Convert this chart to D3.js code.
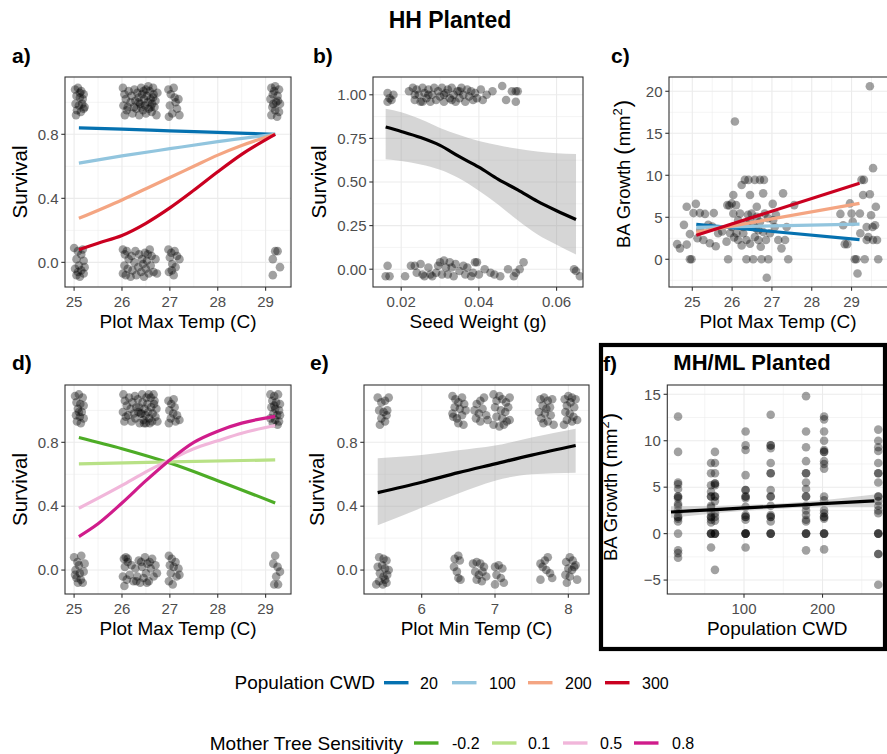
<!DOCTYPE html>
<html><head><meta charset="utf-8">
<script src="https://cdn.jsdelivr.net/npm/d3@7"></script>
<style>body{margin:0;background:#fff}svg{display:block}text{font-family:"Liberation Sans",Arial,Helvetica,sans-serif}</style>
</head><body><svg id="c" width="887" height="754"></svg>
<script>
// ---------------- DATA ----------------
const cwdLevels = ["20", "100", "200", "300"];
const sensLevels = ["-0.2", "0.1", "0.5", "0.8"];

// Panel a: survival vs plot max temp, by population CWD
const aCurves = [
  [[25.1,0.84],[26,0.832],[27,0.822],[28,0.812],[29.2,0.80]],
  [[25.1,0.62],[26,0.665],[27,0.71],[28,0.754],[29.2,0.80]],
  [[25.1,0.275],[26,0.39],[26.5,0.46],[27,0.53],[27.5,0.60],[28,0.67],[28.5,0.73],[29.2,0.80]],
  [[25.1,0.08],[25.5,0.12],[26,0.168],[26.5,0.244],[27,0.34],[27.5,0.45],[28,0.566],[28.5,0.675],[29.2,0.80]]
];
const aPoints = [
 [25.02,1.08],[25.08,1.09],[25.15,1.07],[25.2,1.05],[25.05,1.04],[25.12,1.03],[25.18,1.02],[25.03,0.99],[25.1,0.98],[25.22,0.97],[25.06,0.95],[25.14,0.94],[25.2,0.96],[25.04,0.92],[25.12,1.06],[25.17,0.99],
 [26.02,1.09],[26.05,1.05],[26.08,1.02],[26.03,0.98],[26.1,0.95],[26.06,0.92],[26.14,1.07],[26.18,1.0],[26.12,0.97],[26.2,1.04],[26.22,0.93],[26.26,1.08],[26.28,1.01],[26.3,0.96],[26.32,1.06],[26.35,1.03],[26.36,0.92],[26.38,0.99],[26.4,1.09],[26.42,1.05],[26.44,0.95],[26.46,1.02],[26.48,0.98],[26.5,1.08],[26.5,0.93],[26.52,1.04],[26.54,1.0],[26.56,0.96],[26.58,1.07],[26.6,1.02],[26.62,0.94],[26.63,0.99],[26.65,1.09],[26.66,1.05],[26.68,0.97],[26.7,1.01],[26.72,0.92],[26.74,1.06],[26.45,1.07],[26.55,1.1],[26.4,0.97],[26.6,0.97],[26.35,1.0],[26.65,1.03],[26.25,0.97],
 [26.97,1.08],[27.02,1.05],[27.08,1.09],[27.12,1.0],[27.0,0.98],[27.05,0.93],[27.15,0.96],[27.2,0.92],[27.1,1.03],[26.98,0.91],[27.18,1.02],
 [29.12,1.09],[29.2,1.1],[29.28,1.08],[29.15,1.05],[29.25,1.04],[29.1,1.02],[29.22,1.0],[29.3,0.99],[29.14,0.97],[29.2,0.95],[29.28,0.94],[29.12,0.92],[29.24,0.91],[29.18,1.07],[29.26,1.01],[29.16,0.99],
 [25.0,0.09],[25.08,0.07],[25.15,0.05],[25.05,0.02],[25.2,0.01],[25.1,-0.02],[25.02,-0.04],[25.15,-0.05],[25.08,-0.06],[25.2,-0.07],[25.12,-0.09],[25.05,-0.08],[25.18,0.08],[25.22,-0.03],
 [26.02,0.08],[26.06,0.05],[26.1,0.07],[26.14,0.02],[26.05,-0.02],[26.12,-0.04],[26.02,-0.07],[26.18,-0.09],[26.22,-0.05],[26.2,0.04],[26.26,0.0],[26.3,-0.08],[26.34,-0.03],[26.36,0.05],[26.4,-0.06],[26.42,0.02],[26.46,-0.09],[26.48,0.06],[26.5,-0.04],[26.52,0.01],[26.56,-0.07],[26.58,0.08],[26.6,-0.02],[26.62,0.04],[26.66,-0.06],[26.7,0.02],[26.73,-0.07],[26.44,-0.01],[26.08,-0.08],[26.28,0.07],[26.54,0.05],
 [26.97,0.08],[27.03,0.06],[27.1,0.07],[27.0,0.03],[27.15,0.04],[27.05,-0.01],[27.12,-0.03],[26.98,-0.06],[27.08,-0.08],[27.2,0.02],[27.04,-0.05],
 [29.25,0.07],[29.2,0.07],[29.15,0.02],[29.15,-0.08],[29.3,-0.03]
];

// Panel b: survival vs seed weight
const bFit = [[0.016,0.815],[0.02,0.79],[0.025,0.755],[0.03,0.71],[0.035,0.645],[0.04,0.585],[0.045,0.515],[0.05,0.455],[0.055,0.39],[0.06,0.335],[0.065,0.285]];
const bLow = [0.63,0.62,0.60,0.57,0.52,0.45,0.37,0.28,0.20,0.14,0.085];
const bHigh = [0.92,0.90,0.86,0.81,0.77,0.735,0.71,0.69,0.675,0.665,0.66];
const bPoints = [
 [0.0165,1.01],[0.017,0.98],[0.0175,0.97],[0.0165,0.96],[0.018,1.0],
 [0.022,1.02],[0.023,1.04],[0.0235,0.97],[0.024,1.03],[0.0245,1.0],[0.025,0.96],[0.0255,1.04],[0.026,1.01],[0.0265,0.98],[0.027,1.03],[0.0275,0.96],[0.028,1.0],[0.0285,1.04],[0.029,0.97],[0.0295,1.02],[0.03,0.99],[0.0305,1.04],[0.031,0.96],[0.0315,1.01],[0.032,1.03],[0.0325,0.98],[0.033,1.04],[0.0335,1.0],[0.034,0.96],[0.0345,1.02],[0.035,0.98],[0.0355,1.04],[0.036,1.0],[0.0365,0.96],[0.037,1.03],[0.0375,0.99],[0.038,1.02],[0.0385,0.97],[0.039,1.01],[0.0395,0.98],[0.0405,1.03],[0.041,0.97],[0.042,1.0],[0.0235,1.0],[0.027,1.0],[0.031,1.0],[0.035,1.02],[0.0255,0.96],[0.033,0.97],
 [0.0435,1.02],[0.046,1.05],[0.047,0.97],[0.0485,1.02],[0.0495,1.02],[0.0495,0.96],[0.05,1.02],
 [0.0165,0.02],[0.016,-0.04],[0.017,-0.04],[0.021,-0.04],[0.0225,0.02],[0.0235,0.02],[0.024,-0.02],[0.025,0.03],[0.0255,-0.03],[0.026,-0.04],[0.027,0.01],[0.0275,-0.03],[0.028,-0.04],[0.029,-0.02],[0.0295,0.02],[0.03,0.04],[0.0305,-0.03],[0.031,0.05],[0.0315,0.01],[0.032,-0.03],[0.0325,0.04],[0.033,0.01],[0.0335,-0.04],[0.034,0.03],[0.035,-0.01],[0.036,0.02],[0.0365,-0.03],[0.037,0.01],[0.038,-0.04],[0.0385,-0.02],[0.039,0.04],[0.0395,0.04],[0.04,-0.03],[0.0415,0.0],[0.043,-0.02],[0.044,-0.03],[0.0455,-0.04],[0.0475,0.0],[0.049,-0.04],[0.0495,-0.02],[0.0505,0.0],[0.0515,0.04],[0.0645,0.0],[0.065,-0.01],[0.066,-0.04]
];

// Panel c: BA growth vs plot max temp, by population CWD
const cLines = [
  [[25.1,4.15],[29.2,2.35]],
  [[25.1,3.8],[29.2,4.18]],
  [[25.1,3.2],[29.2,6.65]],
  [[25.1,2.85],[29.2,9.04]]
];
const cPoints = [
 [24.62,1.8],[24.69,1.3],[24.86,1.75],[24.79,4.1],[24.86,6.25],[24.94,3.0],[24.94,0],[24.98,0],[25.03,5.5],[25.09,6.6],[25.13,2.5],[25.19,5.5],[25.28,2.3],[25.32,5.4],[25.4,4.1],[25.44,1.9],[25.54,5.5],[25.59,1.55],[25.65,3.1],[25.86,2.1],[25.88,6.45],[25.9,0],[25.93,6.4],[25.99,6.65],[26.03,7.65],[26.03,5.45],[26.07,16.4],[26.1,6.45],[26.11,3.1],[26.15,4.65],[26.2,5.45],[26.24,8.85],[26.28,3.1],[26.32,9.45],[26.36,2.3],[26.36,0],[26.41,9.45],[26.45,7.65],[26.49,5.45],[26.53,0],[26.57,9.45],[26.62,6.25],[26.66,2.3],[26.7,9.45],[26.74,0],[26.78,7.85],[26.8,9.45],[26.82,5.45],[26.85,2.3],[26.87,-2.2],[26.91,0],[26.95,3.1],[27.02,6.6],[27.03,4.65],[27.07,3.85],[27.16,2.3],[27.24,1.3],[27.28,7.85],[27.33,2.3],[27.37,3.85],[27.41,0],[27.56,6.45],
 [26.36,4.25],[26.45,4.65],[26.53,4.05],[26.62,5.05],[26.7,4.45],[26.66,3.45],[26.28,3.85],[26.15,2.3],[25.95,3.1],[25.99,3.85],[26.78,3.25],[26.57,2.65],[26.45,1.85],[26.72,1.5],[26.24,1.65],[25.2,3.5],[25.5,3.9],[25.75,3.3],[26.05,2.6],[26.4,5.3],[26.9,4.9],[27.1,5.3],[26.6,3.7],
 [28.72,5.4],[28.79,4.05],[28.83,1.8],[28.89,1.8],[28.96,6.65],[29.0,5.45],[29.03,4.45],[29.08,0],[29.12,0],[29.15,-1.7],[29.21,5.45],[29.25,9.45],[29.29,7.65],[29.31,9.45],[29.33,0],[29.38,2.3],[29.42,2.65],[29.46,20.6],[29.46,7.75],[29.49,5.25],[29.53,3.85],[29.54,10.85],[29.54,2.3],[29.59,4.05],[29.61,6.25],[29.64,2.3],[29.67,0],[29.38,3.85],[29.22,3.1]
];

// Panel d: survival vs plot max temp, by mother tree sensitivity
const dCurves = [
  [[25.1,0.83],[26,0.76],[27,0.67],[28,0.56],[29.2,0.42]],
  [[25.1,0.665],[27,0.677],[29.2,0.69]],
  [[25.1,0.387],[26,0.53],[26.5,0.615],[27,0.69],[27.5,0.76],[28,0.81],[28.5,0.857],[29.2,0.905]],
  [[25.1,0.21],[25.5,0.29],[26,0.42],[26.5,0.56],[27,0.69],[27.5,0.80],[28,0.87],[28.5,0.92],[29.2,0.963]]
];
const dPoints = [
 [25.02,1.09],[25.1,1.1],[25.18,1.08],[25.05,1.05],[25.13,1.04],[25.2,1.03],[25.08,1.01],[25.16,0.99],[25.04,0.97],[25.12,0.96],[25.2,0.95],[25.06,0.93],[25.14,0.92],[25.1,0.99],
 [26.03,1.1],[26.06,1.06],[26.1,1.03],[26.02,0.99],[26.08,0.96],[26.05,0.93],[26.15,1.08],[26.18,1.01],[26.13,0.97],[26.22,1.05],[26.2,0.93],[26.27,1.09],[26.3,1.02],[26.28,0.95],[26.33,1.07],[26.36,1.02],[26.37,0.92],[26.39,0.98],[26.42,1.1],[26.43,1.05],[26.45,0.94],[26.47,1.01],[26.49,0.97],[26.51,1.08],[26.5,0.92],[26.53,1.04],[26.55,0.99],[26.57,0.95],[26.6,1.08],[26.61,1.02],[26.63,0.93],[26.64,0.98],[26.66,1.1],[26.67,1.04],[26.7,0.96],[26.72,1.01],[26.74,0.93],[26.46,0.92],[26.56,1.1],[26.41,0.98],[26.58,0.92],[26.34,0.99],[26.68,1.06],[26.25,0.98],
 [26.97,1.06],[27.03,1.04],[27.1,1.02],[26.99,1.0],[27.07,0.98],[27.15,0.97],[27.02,0.95],[27.12,0.93],[27.2,0.94],[26.98,0.92],[27.08,1.07],
 [29.1,1.1],[29.18,1.09],[29.26,1.1],[29.14,1.06],[29.22,1.05],[29.3,1.04],[29.12,1.02],[29.2,1.01],[29.28,1.0],[29.16,0.98],[29.24,0.97],[29.1,0.95],[29.2,0.94],[29.28,0.93],[29.15,0.92],[29.25,0.91],[29.18,1.03],[29.3,0.97],
 [25.0,0.08],[25.07,0.05],[25.15,0.09],[25.1,0.03],[25.03,0.0],[25.12,-0.02],[25.2,-0.01],[25.05,-0.05],[25.14,-0.06],[25.08,-0.08],[25.18,-0.08],[25.02,-0.03],[25.22,0.04],
 [26.04,0.07],[26.08,0.08],[26.12,0.05],[26.06,0.02],[26.02,-0.04],[26.1,-0.06],[26.05,-0.1],[26.16,-0.03],[26.2,0.03],[26.24,-0.07],[26.28,0.01],[26.32,-0.04],[26.35,0.06],[26.38,-0.08],[26.42,0.02],[26.45,-0.05],[26.48,0.08],[26.5,-0.02],[26.53,0.04],[26.56,-0.07],[26.6,0.01],[26.63,0.07],[26.66,-0.04],[26.7,0.03],[26.73,-0.02],[26.12,0.07],[26.4,0.05],[26.58,0.05],[26.3,-0.07],[26.52,-0.08],
 [26.98,0.09],[27.04,0.07],[27.12,0.05],[27.0,0.03],[27.08,0.02],[27.18,0.01],[27.02,-0.02],[27.14,-0.04],[26.98,-0.07],[27.06,-0.09],[27.2,-0.03],
 [29.2,0.09],[29.16,0.04],[29.25,0.02],[29.3,-0.01],[29.22,-0.04],[29.18,-0.09],[29.26,-0.09]
];

// Panel e: survival vs plot min temp
const eFit = [[5.4,0.485],[6,0.55],[6.5,0.61],[7,0.665],[7.5,0.72],[8.1,0.78]];
const eLow = [0.28,0.39,0.48,0.56,0.60,0.61];
const eHigh = [0.70,0.72,0.75,0.78,0.83,0.885];
const ePoints = [
 [5.4,1.08],[5.45,1.05],[5.5,1.06],[5.55,1.08],[5.42,1.0],[5.48,0.99],[5.53,1.0],[5.45,0.95],[5.5,0.93],[5.43,0.91],[5.52,0.97],
 [6.42,1.09],[6.46,1.07],[6.5,1.05],[6.55,1.08],[6.58,1.04],[6.45,1.02],[6.52,1.01],[6.43,0.96],[6.48,0.95],[6.55,0.97],[6.5,0.92],[6.57,0.91],[6.42,0.98],[6.6,1.0],
 [6.72,1.0],[6.75,1.04],[6.8,1.06],[6.85,1.08],[6.78,0.98],[6.83,1.01],[6.88,0.97],[6.74,0.95],[6.8,0.93],[6.9,0.94],
 [6.98,1.1],[7.02,1.06],[7.06,1.09],[7.1,1.07],[7.15,1.05],[7.2,1.08],[7.0,1.02],[7.08,1.0],[7.14,0.99],[7.18,1.02],[7.02,0.96],[7.1,0.95],[7.16,0.93],[6.98,0.91],[7.06,0.9],[7.2,0.94],[7.12,0.91],
 [7.62,1.07],[7.67,1.08],[7.72,1.06],[7.78,1.07],[7.65,1.03],[7.7,1.01],[7.75,1.02],[7.6,0.99],[7.68,0.98],[7.76,0.97],[7.63,0.95],[7.72,0.93],[7.8,0.91],[7.66,0.92],
 [7.95,1.07],[8.0,1.09],[8.05,1.08],[8.1,1.07],[7.98,1.03],[8.03,1.05],[8.08,1.02],[7.96,0.99],[8.02,0.98],[8.07,0.96],[8.12,0.94],[7.98,0.94],[7.94,0.91],[8.05,0.93],
 [5.42,0.08],[5.48,0.07],[5.52,0.06],[5.4,0.02],[5.46,0.03],[5.5,0.01],[5.55,0.0],[5.43,-0.02],[5.48,-0.04],[5.53,-0.03],[5.42,-0.07],[5.47,-0.09],[5.52,-0.08],[5.38,-0.09],[5.5,-0.06],
 [6.45,0.07],[6.5,0.09],[6.52,0.06],[6.44,0.02],[6.48,-0.01],[6.5,-0.05],[6.53,-0.06],
 [6.7,0.04],[6.75,0.05],[6.8,0.04],[6.85,0.02],[6.73,-0.01],[6.78,-0.03],[6.83,-0.01],[6.88,-0.04],[6.75,-0.06],[6.82,-0.07],
 [7.0,0.02],[7.05,0.03],[7.1,0.01],[7.02,-0.03],[7.08,-0.05],[7.0,-0.09],[7.12,-0.08],
 [7.62,0.04],[7.68,0.06],[7.72,0.08],[7.65,0.02],[7.7,0.0],[7.75,-0.02],[7.62,-0.06],[7.78,-0.05],
 [7.97,0.05],[8.02,0.08],[8.06,0.06],[8.1,0.03],[8.0,0.01],[8.05,0.0],[8.08,0.02],[7.96,-0.03],[8.02,-0.04],[8.12,-0.06],[7.98,-0.08]
];

// Panel f: BA growth vs population CWD (MH/ML planted)
const fFit = [[7,2.33],[70,2.62],[137,2.93],[200,3.22],[266,3.52]];
const fLow = [1.7,2.25,2.65,2.85,2.85];
const fHigh = [2.95,3.0,3.2,3.6,4.2];
const fColX = [16, 58, 63, 102, 134, 179, 202, 271];
const fColY = [
  [12.6,8.8,5.5,5.3,4.8,4.0,4.0,3.8,3.2,3.0,2.5,2.2,1.8,1.8,1.6,1.3,0,-1.8,-2.1,-2.6],
  [7.6,6.5,5.2,4.5,4.0,4.0,3.0,2.8,2.3,1.8,1.8,1.5,1.2,0,0,0,-1.5],
  [8.8,7.6,6.5,5.4,5.4,5.2,4.0,4.0,3.5,2.2,1.8,1.4,0,0,0,-3.9],
  [11.0,9.5,9.0,6.3,4.7,4.7,4.0,4.0,3.8,2.9,2.0,1.8,1.8,1.5,0,0,0,0,-1.5],
  [12.8,9.5,9.5,9.2,7.6,6.5,6.5,4.7,4.0,4.0,3.0,2.0,1.8,1.8,1.3,0,0,0],
  [14.8,11.0,9.3,7.8,6.5,6.5,5.5,4.8,4.0,4.0,3.0,2.5,2.0,1.5,1.3,0,0,0,-1.8],
  [12.6,12.3,11.0,10.0,9.0,8.8,8.8,7.8,7.5,7.0,4.0,3.6,2.5,2.2,1.8,1.8,1.6,0,0,0,-1.7],
  [11.2,10.0,9.3,8.9,7.6,6.5,6.5,5.5,4.0,4.0,3.5,3.0,2.5,2.2,0,0,0,-2.2,-2.2,-5.5]
];

// ---------------- STYLE ----------------
const cwdColors = ["#0571b0", "#92c5de", "#f4a582", "#ca0020"];
const sensColors = ["#4dac26", "#b8e186", "#f1b6da", "#d01c8b"];

// ---------------- DRAW ----------------
const svg = d3.select("#c");
svg.append("rect").attr("width", 887).attr("height", 754).attr("fill", "#fff");

function minorBreaks(ticks, dom) {
  const step = ticks[1] - ticks[0];
  const m = ticks.map(t => t - step / 2).concat([ticks[ticks.length - 1] + step / 2]);
  return m.filter(v => v > dom[0] && v < dom[1]);
}

function panel(o) {
  const g = svg.append("g");
  const x = d3.scaleLinear().domain(o.xd).range([o.px0, o.px1]);
  const y = d3.scaleLinear().domain(o.yd).range([o.py1, o.py0]);
  const rr = o.rectR || o.px1;
  const id = "clip" + o.id;
  svg.append("clipPath").attr("id", id).append("rect")
    .attr("x", o.px0).attr("y", o.py0).attr("width", rr - o.px0).attr("height", o.py1 - o.py0);
  const inner = g.append("g").attr("clip-path", `url(#${id})`);
  inner.append("rect").attr("x", o.px0).attr("y", o.py0).attr("width", rr - o.px0).attr("height", o.py1 - o.py0).attr("fill", "#fff");
  const xdVis = [o.xd[0], x.invert(rr)];
  minorBreaks(o.xt, xdVis).forEach(v => inner.append("line").attr("x1", x(v)).attr("x2", x(v)).attr("y1", o.py0).attr("y2", o.py1).attr("stroke", "#ebebeb").attr("stroke-width", 0.55));
  minorBreaks(o.yt, o.yd).forEach(v => inner.append("line").attr("y1", y(v)).attr("y2", y(v)).attr("x1", o.px0).attr("x2", rr).attr("stroke", "#ebebeb").attr("stroke-width", 0.55));
  o.xt.forEach(v => inner.append("line").attr("x1", x(v)).attr("x2", x(v)).attr("y1", o.py0).attr("y2", o.py1).attr("stroke", "#ebebeb").attr("stroke-width", 1.1));
  o.yt.forEach(v => inner.append("line").attr("y1", y(v)).attr("y2", y(v)).attr("x1", o.px0).attr("x2", rr).attr("stroke", "#ebebeb").attr("stroke-width", 1.1));
  inner.append("g").selectAll("circle").data(o.points).join("circle")
    .attr("cx", d => x(d[0])).attr("cy", d => y(d[1])).attr("r", 4.3)
    .attr("fill", "#000").attr("fill-opacity", 0.37);
  if (o.band) {
    const area = d3.area().x(d => x(d[0])).y0(d => y(d[1])).y1(d => y(d[2])).curve(d3.curveMonotoneX);
    inner.append("path").attr("d", area(o.band)).attr("fill", "#999").attr("fill-opacity", 0.4);
  }
  const line = d3.line().x(d => x(d[0])).y(d => y(d[1])).curve(d3.curveMonotoneX);
  o.lines.forEach((l, i) => inner.append("path").attr("d", line(l)).attr("fill", "none")
    .attr("stroke", o.colors[i]).attr("stroke-width", 3.2).attr("stroke-linecap", "butt"));
  g.append("rect").attr("x", o.px0).attr("y", o.py0).attr("width", rr - o.px0).attr("height", o.py1 - o.py0)
    .attr("fill", "none").attr("stroke", "#333").attr("stroke-width", 1.1);
  o.xt.forEach(v => {
    g.append("line").attr("x1", x(v)).attr("x2", x(v)).attr("y1", o.py1).attr("y2", o.py1 + 3.7).attr("stroke", "#333").attr("stroke-width", 1.1);
    g.append("text").attr("x", x(v)).attr("y", o.py1 + 20).attr("text-anchor", "middle")
      .attr("font-size", 15).attr("fill", "#4d4d4d").text(o.xf(v));
  });
  o.yt.forEach(v => {
    g.append("line").attr("x1", o.px0 - 3.7).attr("x2", o.px0).attr("y1", y(v)).attr("y2", y(v)).attr("stroke", "#333").attr("stroke-width", 1.1);
    g.append("text").attr("x", o.px0 - 6.5).attr("y", y(v) + 5.3).attr("text-anchor", "end")
      .attr("font-size", 15).attr("fill", "#4d4d4d").text(o.yf(v));
  });
  const cx = (o.px0 + Math.min(rr, 887)) / 2;
  g.append("text").attr("x", cx).attr("y", o.py1 + 41).attr("text-anchor", "middle")
    .attr("font-size", 19).attr("fill", "#000").text(o.xlab);
  const yt = g.append("text").attr("transform", `translate(${o.ylx},${o.ylc || (o.py0 + o.py1) / 2}) rotate(-90)`)
    .attr("text-anchor", "middle").attr("fill", "#000");
  if (o.ylabSup) {
    yt.attr("font-size", 18.5);
    yt.append("tspan").text("BA Growth");
    yt.append("tspan").attr("dx", 5).attr("font-size", 22).text("(");
    yt.append("tspan").attr("dx", 1).text("mm");
    yt.append("tspan").attr("font-size", 13).attr("dy", -8).text("2");
    yt.append("tspan").attr("dy", 8).attr("dx", 1).attr("font-size", 22).text(")");
  } else yt.attr("font-size", 20.5).text(o.ylab);
  svg.append("text").attr("x", o.tagX).attr("y", o.tagY).attr("font-size", 21).attr("font-weight", "bold").text(o.tag);
}

const fmt1 = d3.format(".1f"), fmt2 = d3.format(".2f"), fmt0 = d3.format("d");

svg.append("text").attr("x", 450).attr("y", 28).attr("text-anchor", "middle").attr("font-size", 23).attr("font-weight", "bold").text("HH Planted");

panel({id: "a", px0: 65, px1: 291, py0: 77, py1: 287, xd: [24.81, 29.53], yd: [-0.154, 1.158],
  xt: [25, 26, 27, 28, 29], yt: [0, 0.4, 0.8], xf: fmt0, yf: fmt1, points: aPoints, lines: aCurves, colors: cwdColors,
  xlab: "Plot Max Temp (C)", ylab: "Survival", ylx: 26.5, tag: "a)", tagX: 12, tagY: 63});
panel({id: "b", px0: 373, px1: 583, py0: 77, py1: 287, xd: [0.01274, 0.0668], yd: [-0.102, 1.102],
  xt: [0.02, 0.04, 0.06], yt: [0, 0.25, 0.5, 0.75, 1.0], xf: fmt2, yf: fmt2, points: bPoints,
  band: bFit.map((d, i) => [d[0], bLow[i], bHigh[i]]), lines: [bFit], colors: ["#000"],
  xlab: "Seed Weight (g)", ylab: "Survival", ylx: 325.5, tag: "b)", tagX: 313, tagY: 63});
panel({id: "c", px0: 669, px1: 885, rectR: 893, py0: 77, py1: 287, xd: [24.415, 29.84], yd: [-3.3, 21.7],
  xt: [25, 26, 27, 28, 29], yt: [0, 5, 10, 15, 20], xf: fmt0, yf: fmt0, points: cPoints, lines: cLines, colors: cwdColors,
  xlab: "Plot Max Temp (C)", ylabSup: true, ylx: 630, ylc: 174, tag: "c)", tagX: 611, tagY: 63});
panel({id: "d", px0: 65, px1: 291, py0: 385, py1: 594, xd: [24.81, 29.53], yd: [-0.15, 1.159],
  xt: [25, 26, 27, 28, 29], yt: [0, 0.4, 0.8], xf: fmt0, yf: fmt1, points: dPoints, lines: dCurves, colors: sensColors,
  xlab: "Plot Max Temp (C)", ylab: "Survival", ylx: 26.5, tag: "d)", tagX: 12, tagY: 370});
panel({id: "e", px0: 364, px1: 589, py0: 385, py1: 594, xd: [5.213, 8.282], yd: [-0.15, 1.159],
  xt: [6, 7, 8], yt: [0, 0.4, 0.8], xf: fmt0, yf: fmt1, points: ePoints,
  band: eFit.map((d, i) => [d[0], eLow[i], eHigh[i]]), lines: [eFit], colors: ["#000"],
  xlab: "Plot Min Temp (C)", ylab: "Survival", ylx: 323.5, tag: "e)", tagX: 310, tagY: 370});
const fPoints = [];
fColX.forEach((cx, i) => fColY[i].forEach(v => fPoints.push([cx, v])));
panel({id: "f", px0: 667.3, px1: 886.9, rectR: 893, py0: 385, py1: 594, xd: [2.3, 282], yd: [-6.5, 16.0],
  xt: [100, 200], yt: [-5, 0, 5, 10, 15], xf: fmt0, yf: fmt0, points: fPoints,
  band: fFit.map((d, i) => [d[0], fLow[i], fHigh[i]]), lines: [fFit], colors: ["#000"],
  xlab: "Population CWD", ylabSup: true, ylx: 616.5, ylc: 487, tag: "f)", tagX: 603, tagY: 371});
svg.append("text").attr("x", 752).attr("y", 370).attr("text-anchor", "middle").attr("font-size", 22).attr("font-weight", "bold").text("MH/ML Planted");
svg.append("rect").attr("x", 601).attr("y", 345).attr("width", 284).attr("height", 304)
  .attr("fill", "none").attr("stroke", "#000").attr("stroke-width", 4.2);

// ---------------- LEGENDS ----------------
function legend(title, titleEnd, yc, labels, colors, keyX, labX) {
  const g = svg.append("g");
  g.append("text").attr("x", titleEnd).attr("y", yc + 6.5).attr("text-anchor", "end").attr("font-size", 19).text(title);
  labels.forEach((l, i) => {
    g.append("line").attr("x1", keyX[i]).attr("x2", keyX[i] + 24.5).attr("y1", yc).attr("y2", yc)
      .attr("stroke", colors[i]).attr("stroke-width", 3.4);
    g.append("text").attr("x", labX[i]).attr("y", yc + 5.8).attr("font-size", 16).attr("fill", "#000").text(l);
  });
}
legend("Population CWD", 375, 682.7, cwdLevels, cwdColors, [384, 452, 528, 605], [420, 489, 565, 642]);
legend("Mother Tree Sensitivity", 403, 743, sensLevels, sensColors, [414, 492, 563, 634], [452, 528, 600, 672]);
</script></body></html>
